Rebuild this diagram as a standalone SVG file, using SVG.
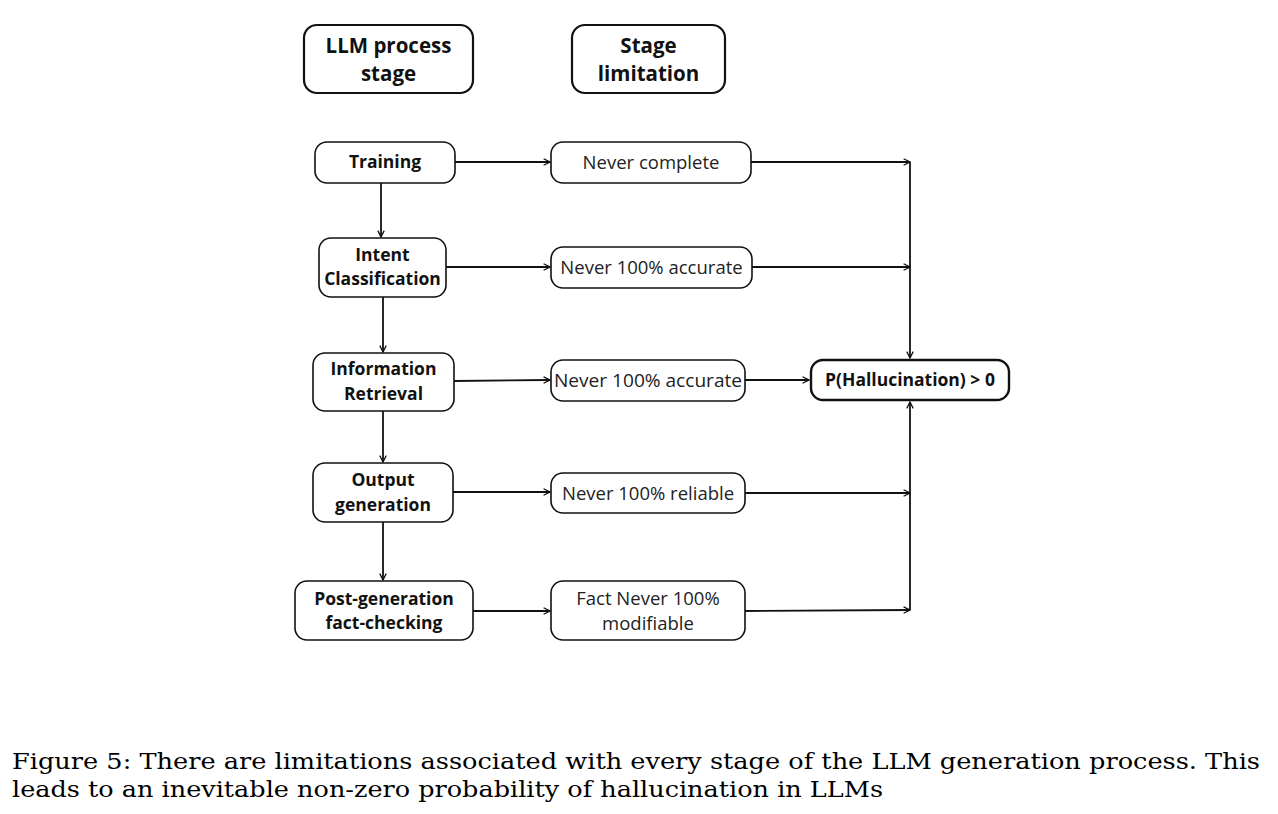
<svg xmlns="http://www.w3.org/2000/svg" width="1278" height="814" viewBox="0 0 1278 814">
<style>
.box{fill:#fff;stroke:#111;stroke-width:1.6}
.hdr{fill:#fff;stroke:#111;stroke-width:2.2}
.res{fill:#fff;stroke:#111;stroke-width:2.4}
.t{font-family:"Open Sans","Noto Sans",sans-serif;fill:#111;text-anchor:middle}
.b{font-weight:bold;font-size:17.5px}
.h{font-weight:bold;font-size:20.5px}
.r{font-size:18.5px;fill:#222}
.c{stroke:#111;stroke-width:1.8;fill:none;marker-end:url(#ah)}
.cap{font-family:"DejaVu Serif","Liberation Serif",serif;font-size:22px;fill:#000}
</style>
<defs>
<marker id="ah" viewBox="0 0 10 10" refX="9" refY="5" markerWidth="8" markerHeight="8" markerUnits="userSpaceOnUse" orient="auto">
<path d="M1,1 L9,5 L1,9" fill="none" stroke="#111" stroke-width="1.6"/>
</marker>
</defs>
<rect width="1278" height="814" fill="#fff"/>
<g id="hdr-stage">
<rect class="hdr" x="304" y="25" width="169" height="68" rx="13"/>
<text class="t h" x="388.5" y="53">LLM process</text>
<text class="t h" x="388.5" y="81">stage</text>
</g>
<g id="hdr-limit">
<rect class="hdr" x="572" y="25" width="153" height="68" rx="13"/>
<text class="t h" x="648.5" y="53">Stage</text>
<text class="t h" x="648.5" y="81">limitation</text>
</g>
<g id="training">
<rect class="box" x="315" y="142" width="140" height="41" rx="12"/>
<text class="t b" x="385" y="168">Training</text>
</g>
<g id="intent">
<rect class="box" x="319" y="238" width="127" height="59" rx="12"/>
<text class="t b" x="382.5" y="261">Intent</text>
<text class="t b" x="382.5" y="285">Classification</text>
</g>
<g id="retrieval">
<rect class="box" x="313" y="353" width="141" height="58" rx="12"/>
<text class="t b" x="383.5" y="375">Information</text>
<text class="t b" x="383.5" y="400">Retrieval</text>
</g>
<g id="output">
<rect class="box" x="313" y="463" width="140" height="59" rx="12"/>
<text class="t b" x="383" y="486">Output</text>
<text class="t b" x="383" y="511">generation</text>
</g>
<g id="postgen">
<rect class="box" x="295" y="581" width="178" height="59" rx="12"/>
<text class="t b" x="384" y="605">Post-generation</text>
<text class="t b" x="384" y="629">fact-checking</text>
</g>
<g id="lim-training">
<rect class="box" x="551" y="142" width="200" height="41" rx="12"/>
<text class="t r" x="651" y="169">Never complete</text>
</g>
<g id="lim-intent">
<rect class="box" x="551" y="247" width="201" height="41" rx="12"/>
<text class="t r" x="651.5" y="274">Never 100% accurate</text>
</g>
<g id="lim-retrieval">
<rect class="box" x="551" y="360" width="194" height="41" rx="12"/>
<text class="t r" x="648" y="387" textLength="188" lengthAdjust="spacingAndGlyphs">Never 100% accurate</text>
</g>
<g id="lim-output">
<rect class="box" x="551" y="473" width="194" height="40" rx="12"/>
<text class="t r" x="648" y="500">Never 100% reliable</text>
</g>
<g id="lim-postgen">
<rect class="box" x="551" y="581" width="194" height="59" rx="12"/>
<text class="t r" x="648" y="605">Fact Never 100%</text>
<text class="t r" x="648" y="630">modifiable</text>
</g>
<g id="result">
<rect class="res" x="811" y="360" width="198" height="40" rx="12"/>
<text class="t b" x="910" y="386">P(Hallucination) &gt; 0</text>
</g>
<g id="connectors">
<path class="c" d="M381,183 V237"/>
<path class="c" d="M383,297 V352"/>
<path class="c" d="M383,411 V462"/>
<path class="c" d="M383,522 V580"/>
<path class="c" d="M455,162 H550"/>
<path class="c" d="M446,267 H550"/>
<path class="c" d="M454,381 L550,380"/>
<path class="c" d="M453,492 H550"/>
<path class="c" d="M473,611 H550"/>
<path class="c" d="M751,162 H910"/>
<path class="c" d="M752,267 H910"/>
<path class="c" d="M745,380 H809"/>
<path class="c" d="M745,493 H910"/>
<path class="c" d="M745,611 L910,610"/>
<path class="c" d="M910,162 V358"/>
<path class="c" d="M910,610 V402"/>
</g>
<g id="caption">
<text class="cap" x="12" y="769" textLength="1248" lengthAdjust="spacingAndGlyphs">Figure 5: There are limitations associated with every stage of the LLM generation process. This</text>
<text class="cap" x="12" y="797" textLength="871" lengthAdjust="spacingAndGlyphs">leads to an inevitable non-zero probability of hallucination in LLMs</text>
</g>
</svg>
